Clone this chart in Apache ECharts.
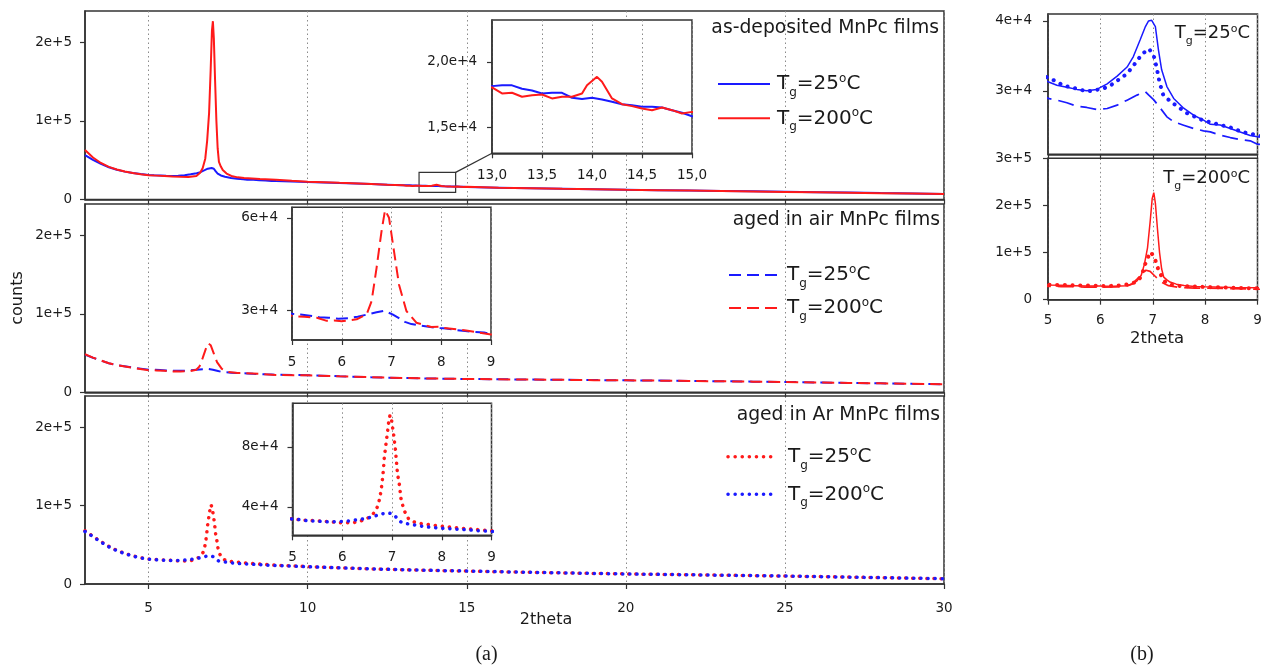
<!DOCTYPE html>
<html><head><meta charset="utf-8">
<script src="https://cdn.jsdelivr.net/npm/echarts@6.0.0/dist/echarts.min.js"></script>
<style>html,body{margin:0;padding:0;background:#fff}#c{width:1261px;height:666px}</style>
</head><body><div id="c"></div>
<script>
// ---------------- DATA (2theta, counts) ----------------
// as-deposited films
const depositedT25 = [[3,56500],[3.25,50500],[3.5,45500],[3.75,41000],[4,37800],[4.25,35500],[4.5,33800],[4.75,32400],[5,31300],[5.17,30800],[5.36,30500],[5.55,30200],[5.74,30000],[5.93,30200],[6.13,31000],[6.32,32100],[6.51,33400],[6.63,34900],[6.76,37300],[6.86,39200],[6.92,40000],[6.98,40100],[7.05,39200],[7.11,35800],[7.17,33000],[7.27,30600],[7.4,28900],[7.59,27500],[7.78,26500],[7.97,25800],[8.1,25200],[8.29,25100],[8.48,24600],[8.67,24100],[8.86,23600],[9,23400],[9.5,22900],[10,22400],[11,21000],[12,19700],[12.5,18900],[13,18140],[13.1,18210],[13.2,18200],[13.3,17940],[13.4,17800],[13.5,17580],[13.6,17630],[13.7,17630],[13.8,17250],[13.9,17150],[14,17250],[14.1,17120],[14.2,16940],[14.3,16760],[14.4,16680],[14.5,16560],[14.6,16560],[14.7,16500],[14.8,16300],[14.9,16100],[15,15840],[16,15100],[17,14400],[18,13700],[19,13000],[20,12400],[21,11900],[22,11400],[23,10900],[24,10400],[25,9800],[26,9300],[27,8800],[28,8200],[29,7700],[30,7100]];
const depositedT200 = [[3,63000],[3.25,53500],[3.5,46500],[3.75,41500],[4,38200],[4.25,35600],[4.5,33700],[4.75,32200],[5,31000],[5.25,30400],[5.5,29800],[5.75,29200],[6,28900],[6.25,28700],[6.5,29800],[6.62,34000],[6.7,40000],[6.78,52000],[6.84,75000],[6.9,110000],[6.95,165000],[6.99,215000],[7.02,227000],[7.05,205000],[7.09,150000],[7.13,100000],[7.17,65000],[7.21,48000],[7.27,42000],[7.33,37500],[7.45,33000],[7.6,30000],[7.8,28200],[8,27300],[8.5,26000],[9,25200],[9.5,23800],[10,22700],[11,21200],[12,19800],[12.5,18800],[13,18040],[13.1,17580],[13.2,17630],[13.3,17330],[13.4,17450],[13.5,17500],[13.6,17200],[13.7,17330],[13.8,17330],[13.9,17580],[13.95,18215],[14.05,18850],[14.1,18470],[14.2,17200],[14.3,16760],[14.4,16610],[14.5,16430],[14.6,16300],[14.7,16500],[14.8,16300],[14.9,16050],[15,16170],[16,15000],[17,14300],[18,13600],[19,13000],[20,12300],[21,11800],[22,11300],[23,10800],[24,10300],[25,9700],[26,9200],[27,8700],[28,8100],[29,7500],[30,6900]];
// aged in air
const airT25 = [[3,48000],[3.25,44000],[3.5,40500],[3.75,37000],[4,34500],[4.5,31500],[5,28900],[5.17,28660],[5.36,28280],[5.55,27800],[5.74,27610],[5.93,27320],[6.13,27460],[6.32,27940],[6.51,28660],[6.7,29380],[6.86,29860],[6.92,29400],[7.02,28700],[7.15,27460],[7.27,26270],[7.4,25550],[7.59,25070],[7.78,24590],[7.97,24260],[8.1,24110],[8.29,23640],[8.48,23300],[8.67,23020],[8.86,22830],[9,22350],[10,21800],[11,20400],[12,19200],[13,18200],[14,17500],[15,17000],[16,16600],[17,16200],[18,15900],[19,15600],[20,15300],[21,14900],[22,14500],[23,14100],[24,13600],[25,13200],[26,12600],[27,12000],[28,11400],[29,10800],[30,10300]];
const airT200 = [[3,48500],[3.25,44200],[3.5,40500],[3.75,37000],[4,34500],[4.5,31200],[5,28200],[5.25,27900],[5.5,27600],[5.7,26600],[5.85,26700],[6,26500],[6.3,27100],[6.5,28700],[6.6,33000],[6.7,43800],[6.8,55700],[6.87,62500],[6.95,60000],[7.05,49200],[7.15,38400],[7.3,29800],[7.5,26000],[7.8,24600],[7.95,24700],[8,24400],[8.5,23500],[9,22200],[10,21600],[11,20300],[12,19200],[13,18200],[14,17500],[15,17000],[16,16600],[17,16200],[18,15900],[19,15500],[20,15200],[21,14900],[22,14500],[23,14000],[24,13600],[25,13100],[26,12600],[27,12000],[28,11400],[29,10800],[30,10200]];
// aged in Ar
const arT25 = [[3,68000],[3.25,61000],[3.5,54000],[3.75,48000],[4,43000],[4.25,39000],[4.5,36000],[4.75,33500],[5,31800],[5.25,31100],[5.5,30600],[5.75,30100],[6,29300],[6.2,29300],[6.35,30200],[6.5,32200],[6.6,34400],[6.67,37300],[6.72,41100],[6.76,46700],[6.79,53300],[6.81,58900],[6.83,65600],[6.84,71100],[6.86,76700],[6.88,82200],[6.91,90000],[6.93,95600],[6.96,101100],[6.99,98200],[7.01,93300],[7.03,88900],[7.05,83300],[7.07,77800],[7.09,70000],[7.11,62200],[7.15,54400],[7.18,45600],[7.24,37800],[7.33,32200],[7.43,30000],[7.56,28900],[7.73,28200],[8,27000],[8.5,25400],[9,24000],[10,22200],[11,20700],[12,19300],[13,18200],[14,17300],[15,16500],[16,15600],[17,14900],[18,14200],[19,13500],[20,12900],[21,12300],[22,11800],[23,11300],[24,10700],[25,10100],[26,9500],[27,8800],[28,8100],[29,7400],[30,6800]];
const arT200 = [[3,67000],[3.25,60500],[3.5,53500],[3.75,47500],[4,42500],[4.25,38800],[4.5,35700],[4.75,33300],[5,31800],[5.15,31400],[5.3,30700],[5.45,30500],[5.6,30200],[5.75,29900],[5.9,30100],[6.05,30300],[6.2,30800],[6.35,31600],[6.5,32400],[6.6,33300],[6.7,34300],[6.8,35300],[6.93,36000],[7.02,35000],[7.07,33500],[7.13,31200],[7.2,29400],[7.35,28400],[7.5,27600],[7.65,26800],[7.8,26300],[7.95,25800],[8.1,25500],[8.25,25200],[8.4,24900],[8.55,24600],[8.7,24100],[8.85,23900],[9,23600],[10,22000],[11,20600],[12,19300],[13,18200],[14,17300],[15,16600],[16,15700],[17,15000],[18,14200],[19,13500],[20,12800],[21,12300],[22,11800],[23,11200],[24,10700],[25,10200],[26,9500],[27,8800],[28,8100],[29,7400],[30,6800]];

// axis ranges and tick values
const mainXTicks = [5,10,15,20,25,30];
const mainYTicks = [0,100000,200000];
const inset1XTicks = [13,13.5,14,14.5,15];
const inset1YTicks = [15000,20000];
const inset2YTicks = [30000,60000];
const inset3YTicks = [40000,80000];
const zoomXTicks = [5,6,7,8,9];
const bTopYTicks = [30000,40000];
const bBotYTicks = [0,100000,200000,300000];
const zoomBoxX = [13.5,14.65];
const zoomBoxY = [9000,34500];

const panelTitles = ['as-deposited MnPc films','aged in air MnPc films','aged in Ar MnPc films'];
const tempLabels = ['25','200'];

// ---------------- CHART ----------------
const chart = echarts.init(document.getElementById('c'), null, {renderer:'canvas'});
const FONT = 'DejaVu Sans';
const INK = '#1a1a1a';
const AX = '#333333';
const GRIDC = '#8a8a8a';
const BLUE = '#1a1aff', RED = '#ff1a1a';

function sci(v, dec) {
  if (v === 0) return '0';
  const e = Math.floor(Math.log10(v) + 1e-9);
  const m = v / Math.pow(10, e);
  const s = dec ? m.toFixed(dec).replace('.', ',') : String(Math.round(m));
  return s + 'e+' + e;
}
function grid(left, top, width, height, inset) {
  return {left, top, width, height, show:true, backgroundColor: inset ? '#ffffff' : 'transparent',
    borderColor: AX, borderWidth: 1.5, z: inset ? 10 : 0, containLabel:false, outerBoundsMode:'none'};
}
function xAx(gi, min, max, ticks, o) {
  return {type:'value', gridIndex:gi, min, max, z:o.z||0,
    axisLine:{show:true, onZero:false, lineStyle:{color:AX, width:1.5}},
    axisTick:{show:true, inside:false, length:5, customValues:ticks, lineStyle:{color:AX, width:1.2}},
    axisLabel:{show:!!o.labels, customValues:ticks, margin:o.margin||15, color:INK, fontFamily:FONT, fontSize:13.5,
      formatter:o.fmt || (v => String(v)), hideOverlap:false, showMinLabel:true, showMaxLabel:true},
    splitLine:{show:true, lineStyle:{color:GRIDC, width:1, type:[1.5,3]}}};
}
function yAx(gi, min, max, ticks, o) {
  return {type:'value', gridIndex:gi, min, max, z:o.z||0,
    axisLine:{show:true, onZero:false, lineStyle:{color:AX, width:1.5}},
    axisTick:{show:true, inside:false, length:5, customValues:ticks, lineStyle:{color:AX, width:1.2}},
    axisLabel:{show:true, customValues:ticks, margin:o.margin||13, color:INK, fontFamily:FONT, fontSize:13.5,
      formatter:v => sci(v, o.dec), hideOverlap:false, showMinLabel:true, showMaxLabel:true},
    splitLine:{show:false}};
}
const SOLID = {width:2};
const DASH = {width:2, dash:[12,6]};
const DOT = {width:3.5, dash:[0.1,7], cap:'round'};
const B_SOLID = {width:1.5};
const B_DASH = {width:1.7, dash:[16,7]};
const B_DOT = {width:4, dash:[0.1,7.6], cap:'round'};
function line(name, data, ai, color, st, z, extra) {
  const ls = {color, width:st.width};
  if (st.dash) ls.type = st.dash;
  if (st.cap) ls.cap = st.cap;
  return Object.assign({type:'line', name, data, xAxisIndex:ai, yAxisIndex:ai, showSymbol:false, symbol:'none',
    lineStyle:ls, itemStyle:{color}, color, z, silent:true, clip:true, animation:false}, extra||{});
}

const option = {
  animation:false,
  backgroundColor:'#ffffff',
  grid:[
    grid(85, 11, 859, 188.5, false),
    grid(85, 204, 859, 188.3, false),
    grid(85, 396, 859, 188, false),
    grid(492, 20, 200, 133.3, true),
    grid(292, 207.3, 199, 132.7, true),
    grid(292.5, 403.3, 199, 132, true),
    grid(1048, 14, 209.5, 140.3, false),
    grid(1048, 158.3, 209.5, 141.4, false)
  ],
  xAxis:[
    xAx(0, 3, 30, mainXTicks, {labels:false}),
    xAx(1, 3, 30, mainXTicks, {labels:false}),
    xAx(2, 3, 30, mainXTicks, {labels:true, margin:17}),
    xAx(3, 13, 15, inset1XTicks, {labels:true, margin:15, z:11, fmt:v => v.toFixed(1).replace('.', ',')}),
    xAx(4, 5, 9, zoomXTicks, {labels:true, margin:15, z:11}),
    xAx(5, 5, 9, zoomXTicks, {labels:true, margin:15, z:11}),
    xAx(6, 5, 9, zoomXTicks, {labels:false}),
    xAx(7, 5, 9, zoomXTicks, {labels:true, margin:14})
  ],
  yAxis:[
    yAx(0, 0, 240000, mainYTicks, {margin:13}),
    yAx(1, 0, 240000, mainYTicks, {margin:13}),
    yAx(2, 0, 240000, mainYTicks, {margin:13}),
    yAx(3, 13000, 23200, inset1YTicks, {margin:15, z:11, dec:1}),
    yAx(4, 20400, 63400, inset2YTicks, {margin:14, z:11}),
    yAx(5, 21000, 109000, inset3YTicks, {margin:14, z:11}),
    yAx(6, 20900, 41000, bTopYTicks, {margin:16}),
    yAx(7, 0, 300000, bBotYTicks, {margin:16})
  ],
  series:[
    line('dep25', depositedT25, 0, BLUE, SOLID, 2),
    line('dep200', depositedT200, 0, RED, SOLID, 2, {
      markArea:{silent:true, itemStyle:{color:'rgba(0,0,0,0)', borderColor:AX, borderWidth:1.2},
        label:{show:false},
        data:[[{xAxis:zoomBoxX[0], yAxis:zoomBoxY[0]}, {xAxis:zoomBoxX[1], yAxis:zoomBoxY[1]}]]}
    }),
    line('air25', airT25, 1, BLUE, DASH, 2),
    line('air200', airT200, 1, RED, DASH, 2),
    line('ar25', arT25, 2, RED, DOT, 2),
    line('ar200', arT200, 2, BLUE, DOT, 2),
    line('i1-25', depositedT25, 3, BLUE, SOLID, 12),
    line('i1-200', depositedT200, 3, RED, SOLID, 12),
    line('i2-25', airT25, 4, BLUE, DASH, 12),
    line('i2-200', airT200, 4, RED, DASH, 12),
    line('i3-25', arT25, 5, RED, DOT, 12),
    line('i3-200', arT200, 5, BLUE, DOT, 12),
    line('b-dep25', depositedT25, 6, BLUE, B_SOLID, 2),
    line('b-air25', airT25, 6, BLUE, B_DASH, 2),
    line('b-ar200', arT200, 6, BLUE, B_DOT, 2),
    line('b-dep200', depositedT200, 7, RED, B_SOLID, 2),
    line('b-air200', airT200, 7, RED, B_DASH, 2),
    line('b-ar25', arT25, 7, RED, B_DOT, 2)
  ]
};
chart.setOption(option);

// ---------------- annotations ----------------
function tText(x, y, temp, size, align) {
  return {type:'text', x, y, z:100, silent:true,
    style:{text:'{t|T}{s|g}{t|=' + temp + '}{o|o}{t|C}', align:align||'left', verticalAlign:'middle', fill:INK,
      rich:{
        t:{fontFamily:FONT, fontSize:size, lineHeight:size*1.5, verticalAlign:'middle', fill:INK},
        s:{fontFamily:FONT, fontSize:Math.round(size*0.62), lineHeight:Math.round(size*0.62), verticalAlign:'bottom', fill:INK},
        o:{fontFamily:FONT, fontSize:Math.round(size*0.6), lineHeight:Math.round(size*0.6), verticalAlign:'top', fill:INK, padding:[Math.round(size*0.22),0,0,0]}
      }}};
}
function plain(x, y, text, size, align, extra) {
  return Object.assign({type:'text', x, y, z:100, silent:true,
    style:{text, align:align||'left', verticalAlign:'middle', fill:INK, font:size + 'px "' + FONT + '"'}}, extra||{});
}
function sample(x1, x2, y, color, st) {
  const s = {stroke:color, lineWidth:st.width};
  if (st.dash) s.lineDash = st.dash;
  if (st.cap) s.lineCap = st.cap;
  return {type:'line', z:100, silent:true, shape:{x1, y1:y, x2, y2:y}, style:s};
}
const p1 = chart.convertToPixel({xAxisIndex:0, yAxisIndex:0}, [zoomBoxX[1], zoomBoxY[1]]);
const p2 = chart.convertToPixel({xAxisIndex:3, yAxisIndex:3}, [13, 13000]);

chart.setOption({graphic:[
  {type:'line', z:100, silent:true, shape:{x1:p1[0], y1:p1[1], x2:p2[0], y2:p2[1]}, style:{stroke:AX, lineWidth:1.2}},
  plain(939, 28.5, panelTitles[0], 18.8, 'right'),
  plain(940, 220.5, panelTitles[1], 18.8, 'right'),
  plain(940, 415.5, panelTitles[2], 18.8, 'right'),
  sample(718, 770, 84, BLUE, SOLID),
  sample(718, 770, 118.3, RED, SOLID),
  tText(777, 84, tempLabels[0], 20),
  tText(777, 118.3, tempLabels[1], 20),
  sample(729, 780, 275, BLUE, DASH),
  sample(729, 780, 308, RED, DASH),
  tText(787, 275, tempLabels[0], 20),
  tText(787, 308, tempLabels[1], 20),
  sample(728, 775, 456.7, RED, DOT),
  sample(728, 775, 494.3, BLUE, DOT),
  tText(788, 456.7, tempLabels[0], 20),
  tText(788, 494.3, tempLabels[1], 20),
  tText(1250, 33, tempLabels[0], 18, 'right'),
  tText(1250, 178, tempLabels[1], 18, 'right'),
  plain(18.3, 298, 'counts', 16, 'center', {rotation:Math.PI/2}),
  plain(546, 620, '2theta', 16, 'center'),
  plain(1157, 339, '2theta', 16.5, 'center'),
  {type:'text', x:486.5, y:655, z:100, silent:true, style:{text:'(a)', align:'center', verticalAlign:'middle', fill:INK, font:'20px "Liberation Serif"'}},
  {type:'text', x:1142, y:655, z:100, silent:true, style:{text:'(b)', align:'center', verticalAlign:'middle', fill:INK, font:'20px "Liberation Serif"'}}
]});
</script>
</body></html>
